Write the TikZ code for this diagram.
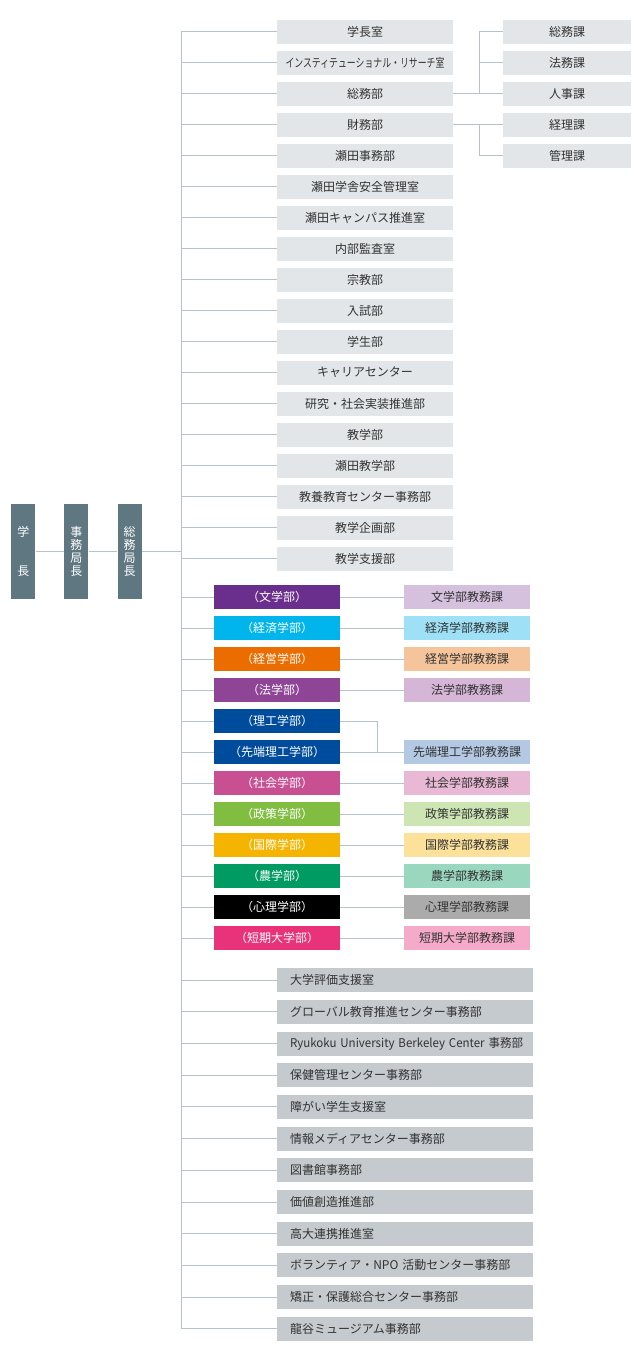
\documentclass[tikz,border=0pt]{standalone}
\usepackage{fontspec}
\setmainfont{Noto Sans CJK JP}
\usetikzlibrary{positioning}

\definecolor{linkgray}{HTML}{B7C3CA}
\definecolor{headgray}{HTML}{5F7781}
\definecolor{topgray}{HTML}{E3E6E8}
\definecolor{botgray}{HTML}{C4CACE}
\definecolor{txtgray}{HTML}{333333}
\definecolor{fBun}{HTML}{6A2F8C}\definecolor{oBun}{HTML}{D5C1DE}
\definecolor{fKeizai}{HTML}{00B5EC}\definecolor{oKeizai}{HTML}{9EE1F6}
\definecolor{fKeiei}{HTML}{EB6D00}\definecolor{oKeiei}{HTML}{F5C49A}
\definecolor{fHo}{HTML}{8E4596}\definecolor{oHo}{HTML}{D6B6D7}
\definecolor{fRiko}{HTML}{004C9C}\definecolor{oRiko}{HTML}{B3C8E2}
\definecolor{fShakai}{HTML}{C84F92}\definecolor{oShakai}{HTML}{E8B8D4}
\definecolor{fSeisaku}{HTML}{80BD41}\definecolor{oSeisaku}{HTML}{CDE5B3}
\definecolor{fKokusai}{HTML}{F5B400}\definecolor{oKokusai}{HTML}{FBE19A}
\definecolor{fNo}{HTML}{009B63}\definecolor{oNo}{HTML}{99D7BF}
\definecolor{fShinri}{HTML}{000000}\definecolor{oShinri}{HTML}{ABABAB}
\definecolor{fTandai}{HTML}{E83279}\definecolor{oTandai}{HTML}{F4AAC8}

\tikzset{
  link/.style={draw=linkgray,line width=0.75pt},
  box/.style={inner sep=0pt,minimum height=18pt,font=\fontsize{9}{10}\selectfont},
  headbox/.style={box,fill=headgray,text=white,minimum width=18pt,minimum height=71.25pt,
    align=center,font=\fontsize{9}{9.75}\selectfont},
  topbox/.style={box,fill=topgray,text=txtgray,minimum width=132pt},
  subbox/.style={box,fill=topgray,text=txtgray,minimum width=96pt},
  facbox/.style={box,text=white,minimum width=94.5pt},
  offbox/.style={box,text=txtgray,minimum width=94.5pt},
  botbox/.style={box,fill=botgray,text=txtgray,minimum width=192pt,
    text width=172.5pt,inner xsep=9.75pt,align=left},
}

\begin{document}
\begin{tikzpicture}[x=0.75pt,y=-0.75pt]
\useasboundingbox (0,0) rectangle (640,1354);

%la direction
\node[headbox] (h1) at (23.4,551.5) {学\\[19.5pt]長};
\node[headbox] (h2) at (76.3,551.5) {事\\務\\局\\長};
\node[headbox] (h3) at (129.5,551.5) {総\\務\\局\\長};
\coordinate (trunktop) at (181,31.5);
\coordinate (trunkbot) at (181,1328.7);
\draw[link] (trunktop) -- (trunkbot);
\draw[link] (h1.east) -- (h2.west);
\draw[link] (h2.east) -- (h3.west);
\draw[link] (h3.east) -- (h3.east -| trunktop);

%les bureaux
\foreach \lab [count=\i] in {学長室,{\scalebox{0.74}[1]{インスティテューショナル・リサーチ室}},総務部,財務部,瀬田事務部,
  瀬田学舎安全管理室,瀬田キャンパス推進室,内部監査室,宗教部,入試部,学生部,キャリアセンター,
  研究・社会実装推進部,教学部,瀬田教学部,教養教育センター事務部,教学企画部,教学支援部}{
  \node[topbox] (t\i) at (365,31.5+31*\i-31) {\lab};
  \draw[link] (t\i.west) -- (t\i.west -| trunktop);
}
\foreach \lab [count=\i] in {総務課,法務課,人事課,経理課,管理課}
  \node[subbox] (s\i) at (567,31.5+31*\i-31) {\lab};
\coordinate (jA) at (479,93.5);
\coordinate (jB) at (479,124.5);
\draw[link] (t3.east) -- (s3.west);
\draw[link] (s1.west) -| (jA);
\draw[link] (s2.west) -| (jA);
\draw[link] (t4.east) -- (s4.west);
\draw[link] (s5.west) -| (jB);

%les facultes
\foreach \lab/\col [count=\i] in {文学部/Bun,経済学部/Keizai,経営学部/Keiei,法学部/Ho,理工学部/Riko,
  先端理工学部/Riko,社会学部/Shakai,政策学部/Seisaku,国際学部/Kokusai,農学部/No,心理学部/Shinri,
  短期大学部/Tandai}{
  \node[facbox,fill=f\col] (f\i) at (277,597+31*\i-31) {（\lab）};
  \draw[link] (f\i.west) -- (f\i.west -| trunktop);
  \ifnum\i=5\else
    \node[offbox,fill=o\col] (o\i) at (467,597+31*\i-31) {\lab 教務課};
    \draw[link] (f\i.east) -- (o\i.west);
  \fi
}
\coordinate (jC) at (377,752);
\draw[link] (f5.east) -| (jC);

%les autres services
\foreach \lab [count=\i] in {大学評価支援室,グローバル教育推進センター事務部,
  {\scalebox{0.96}[1]{Ryukoku University Berkeley Center 事務部}},保健管理センター事務部,障がい学生支援室,
  情報メディアセンター事務部,図書館事務部,価値創造推進部,高大連携推進室,
  ボランティア・NPO 活動センター事務部,矯正・保護総合センター事務部,龍谷ミュージアム事務部}{
  \node[botbox] (b\i) at (405,980.3+31.67*\i-31.67) {\lab};
  \draw[link] (b\i.west) -- (b\i.west -| trunktop);
}

\end{tikzpicture}
\end{document}
